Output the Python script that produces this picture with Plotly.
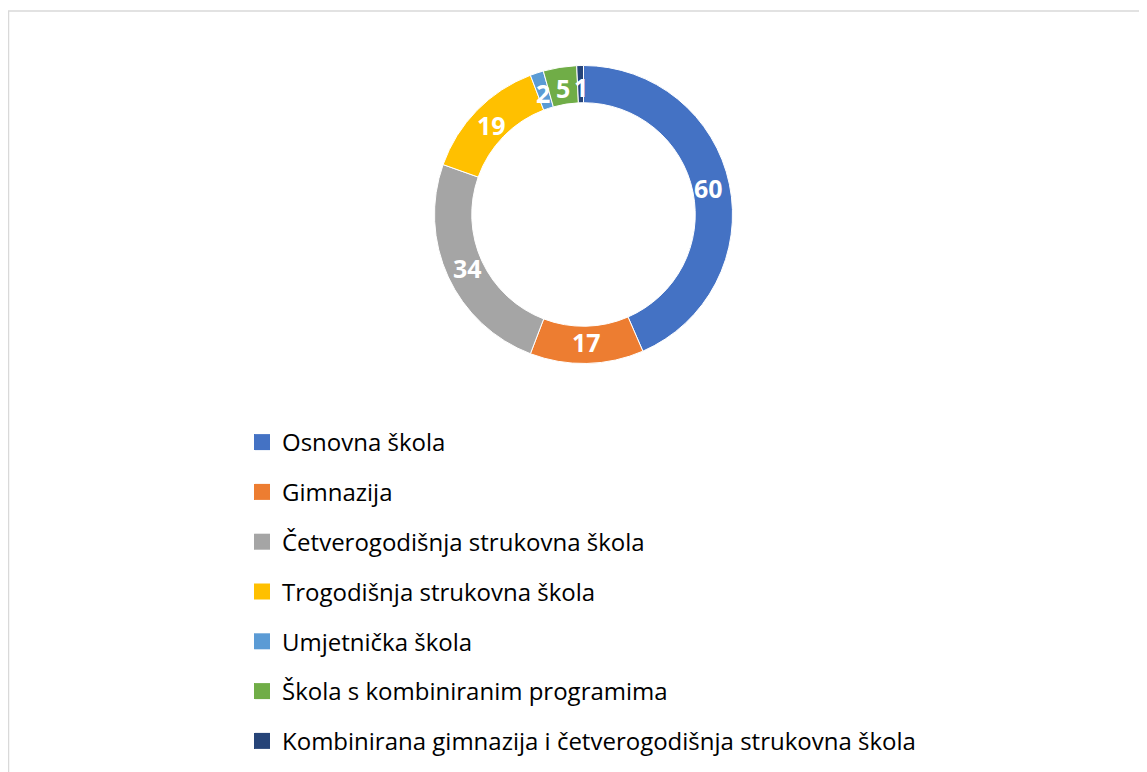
import math
import plotly.graph_objects as go

# podaci
kategorije = [
    "Osnovna škola",
    "Gimnazija",
    "Četverogodišnja strukovna škola",
    "Trogodišnja strukovna škola",
    "Umjetnička škola",
    "Škola s kombiniranim programima",
    "Kombinirana gimnazija i četverogodišnja strukovna škola",
]
broj_skola = [60, 17, 34, 19, 2, 5, 1]
boje = ["#4472C4", "#ED7D31", "#A5A5A5", "#FFC000", "#5B9BD5", "#70AD47", "#264478"]

W, H = 1147, 772
OFF = 8  # margina stranice (body) pomice graf za 8 px
cx, cy, r = 583.5 - OFF, 214.5 - OFF, 149
r_lab = 128  # polumjer na kojem stoje oznake vrijednosti

fig = go.Figure()

fig.add_trace(go.Pie(
    labels=kategorije,
    values=broj_skola,
    hole=0.75,
    sort=False,
    direction="clockwise",
    rotation=0,
    marker=dict(colors=boje, line=dict(color="white", width=1)),
    textinfo="none",
    showlegend=False,
    domain=dict(x=[(cx - r) / W, (cx + r) / W], y=[(H - cy - r) / H, (H - cy + r) / H]),
))

# oznake vrijednosti na sredini svakog isjecka (kao u Excelu)
ukupno = sum(broj_skola)
kum = 0
oznake = []
for v in broj_skola:
    kut = (kum + v / 2) / ukupno * 2 * math.pi
    kum += v
    px_ = cx + r_lab * math.sin(kut)
    py_ = cy - r_lab * math.cos(kut)
    oznake.append(dict(
        x=px_ / W, y=(H - py_) / H, xref="paper", yref="paper",
        text=str(v), showarrow=False,
        font=dict(family="Open Sans", size=25, color="white", weight="bold"),
        xanchor="center", yanchor="middle",
    ))

# legenda kao zasebne stavke (radi razmaka izmedju redova)
for naziv, boja in zip(kategorije, boje):
    fig.add_trace(go.Scatter(
        x=[None], y=[None],
        mode="markers",
        marker=dict(symbol="square", size=16, color=boja),
        name=naziv,
        legendgroup=naziv,
    ))

fig.update_layout(
    width=W, height=H,
    margin=dict(l=0, r=0, t=0, b=0),
    paper_bgcolor="white",
    plot_bgcolor="white",
    xaxis=dict(visible=False),
    yaxis=dict(visible=False),
    annotations=oznake,
    legend=dict(
        x=234 / W, y=(H - 412) / H,
        xanchor="left", yanchor="top",
        font=dict(family="Open Sans", size=24, color="#000000"),
        tracegroupgap=15.6,
        bgcolor="rgba(0,0,0,0)",
    ),
    shapes=[dict(
        type="rect", xref="paper", yref="paper",
        x0=0.5 / W, x1=1.02, y0=-0.02, y1=(H - 3) / H,
        line=dict(color="#D9D9D9", width=1.5),
    )],
)

fig.write_html("out.html")
